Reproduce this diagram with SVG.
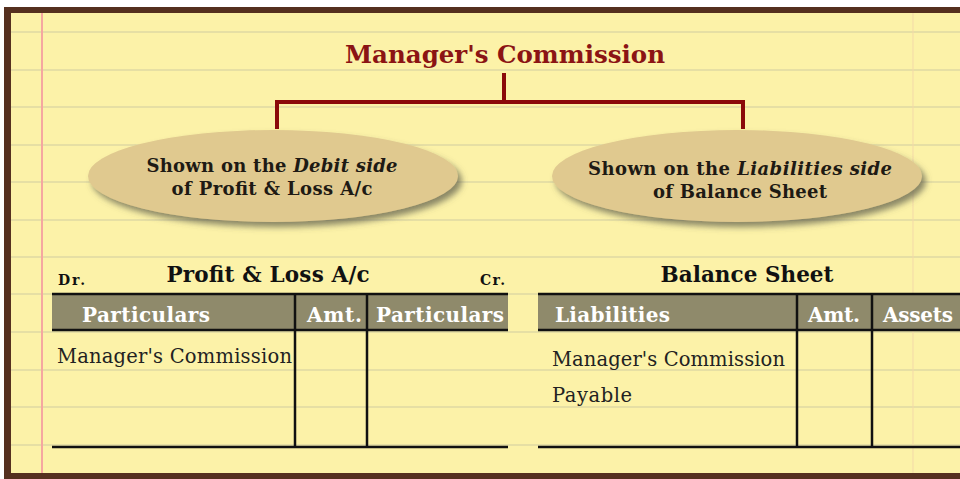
<svg xmlns="http://www.w3.org/2000/svg" width="960" height="479" viewBox="0 0 960 479">
<defs>
<style>
.rule{stroke:#E6DFA4;stroke-width:2}
.conn{stroke:#8B0A0A;stroke-width:4;fill:none}
.oval{fill:#E0C98F}
.ot{font-family:"DejaVu Serif",serif;font-weight:bold;font-size:18px;fill:#1E1A14;text-anchor:middle}
.tt{font-family:"DejaVu Serif",serif;font-weight:bold;font-size:21.5px;fill:#111;text-anchor:middle}
.dc{font-family:"DejaVu Serif",serif;font-weight:bold;font-size:14px;fill:#111}
.band{fill:#8F8A6B}
.ht{font-family:"DejaVu Serif",serif;font-size:20px;fill:#FFFFFF;font-weight:bold}
.bt{font-family:"DejaVu Serif",serif;font-size:19.5px;fill:#222}
.ln{stroke:#111;stroke-width:2.5}
</style>
<filter id="sh" x="-10%" y="-20%" width="125%" height="150%">
<feDropShadow dx="4" dy="5" stdDeviation="3" flood-color="#5A5A4A" flood-opacity="0.7"/>
</filter>
</defs>
<rect x="0" y="0" width="960" height="479" fill="#FFFFFF"/>
<rect x="4" y="7" width="960" height="472" fill="#55301F"/>
<rect x="11" y="13" width="949" height="460" fill="#FCF2A8"/>
<g id="paper-lines">
<line class="rule" x1="11" y1="32" x2="960" y2="32"/>
<line class="rule" x1="11" y1="70" x2="960" y2="70"/>
<line class="rule" x1="11" y1="107" x2="960" y2="107"/>
<line class="rule" x1="11" y1="145" x2="960" y2="145"/>
<line class="rule" x1="11" y1="182" x2="960" y2="182"/>
<line class="rule" x1="11" y1="220" x2="960" y2="220"/>
<line class="rule" x1="11" y1="257" x2="960" y2="257"/>
<line class="rule" x1="11" y1="294" x2="960" y2="294"/>
<line class="rule" x1="11" y1="332" x2="960" y2="332"/>
<line class="rule" x1="11" y1="370" x2="960" y2="370"/>
<line class="rule" x1="11" y1="407" x2="960" y2="407"/>
<line class="rule" x1="11" y1="445" x2="960" y2="445"/>
<line x1="42" y1="13" x2="42" y2="473" stroke="#F5A7A0" stroke-width="2"/>
<line x1="913" y1="13" x2="913" y2="473" stroke="#F3D9A8" stroke-width="1"/>
</g>
<g id="title">
<text x="505" y="63" font-family="DejaVu Serif, serif" font-weight="bold" font-size="24.5" fill="#8B1414" text-anchor="middle" textLength="320">Manager's Commission</text>
</g>
<g id="connectors">
<path class="conn" d="M504 73 V102 M277 102 H743 M277 100 V129 M743 100 V129"/>
</g>
<g id="node-debit">
<ellipse class="oval" cx="273" cy="176" rx="185" ry="46" filter="url(#sh)"/>
<text class="ot" x="272" y="172" textLength="251">Shown on the <tspan font-style="italic">Debit side</tspan></text>
<text class="ot" x="272" y="195" textLength="201">of Profit &amp; Loss A/c</text>
</g>
<g id="node-liabilities">
<ellipse class="oval" cx="737" cy="176" rx="185" ry="46" filter="url(#sh)"/>
<text class="ot" x="740" y="175" textLength="304">Shown on the <tspan font-style="italic">Liabilities side</tspan></text>
<text class="ot" x="740" y="198" textLength="174">of Balance Sheet</text>
</g>
<g id="pl-account">
<text class="dc" x="58" y="285" textLength="27">Dr.</text>
<text class="tt" x="268" y="282" textLength="203">Profit &amp; Loss A/c</text>
<text class="dc" x="480" y="285" textLength="25">Cr.</text>
<rect class="band" x="52" y="294" width="456" height="36"/>
<line class="ln" x1="52" y1="294" x2="508" y2="294"/>
<line class="ln" x1="52" y1="330" x2="508" y2="330"/>
<line class="ln" x1="295" y1="294" x2="295" y2="447"/>
<line class="ln" x1="367" y1="294" x2="367" y2="447"/>
<line class="ln" x1="52" y1="447" x2="508" y2="447"/>
<text class="ht" x="82" y="322" textLength="128">Particulars</text>
<text class="ht" x="307" y="322" textLength="55">Amt.</text>
<text class="ht" x="376" y="322" textLength="128">Particulars</text>
<text class="bt" x="57" y="363" textLength="235">Manager's Commission</text>
</g>
<g id="balance-sheet">
<text class="tt" x="747" y="282" textLength="173">Balance Sheet</text>
<rect class="band" x="538" y="294" width="422" height="36"/>
<line class="ln" x1="538" y1="294" x2="960" y2="294"/>
<line class="ln" x1="538" y1="330" x2="960" y2="330"/>
<line class="ln" x1="797" y1="294" x2="797" y2="447"/>
<line class="ln" x1="872" y1="294" x2="872" y2="447"/>
<line class="ln" x1="538" y1="447" x2="960" y2="447"/>
<text class="ht" x="555" y="322" textLength="115">Liabilities</text>
<text class="ht" x="808" y="322" textLength="52">Amt.</text>
<text class="ht" x="883" y="322" textLength="70">Assets</text>
<text class="bt" x="552" y="366" textLength="233">Manager's Commission</text>
<text class="bt" x="552" y="402" textLength="80">Payable</text>
</g>
</svg>
